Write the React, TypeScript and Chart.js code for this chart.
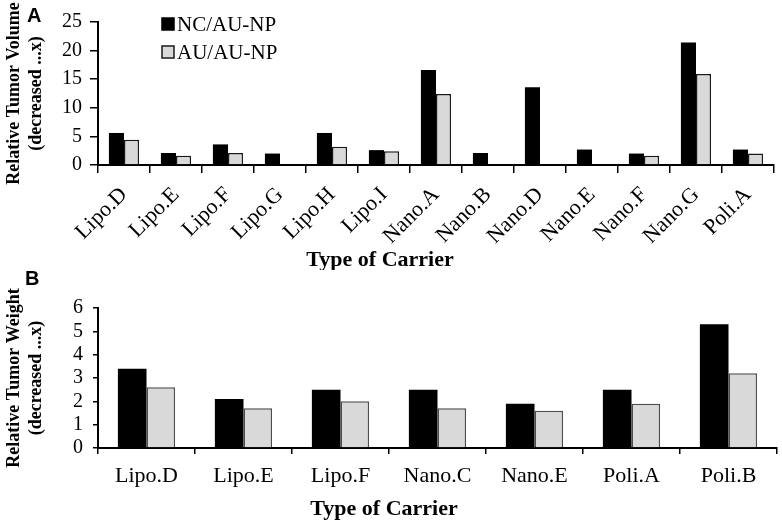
import { useEffect, useRef } from 'react';
import { Chart, registerables } from 'chart.js';

Chart.register(...registerables);

// Panel A: relative tumor volume
const carriersA = ['Lipo.D', 'Lipo.E', 'Lipo.F', 'Lipo.G', 'Lipo.H', 'Lipo.I', 'Nano.A', 'Nano.B', 'Nano.D', 'Nano.E', 'Nano.F', 'Nano.G', 'Poli.A'];
const ncVolume = [5.6, 2.1, 3.6, 2.0, 5.6, 2.6, 16.6, 2.1, 13.6, 2.7, 2.0, 21.4, 2.7];
const auVolume = [4.4, 1.6, 2.1, null, 3.2, 2.4, 12.4, null, null, null, 1.6, 15.9, 2.0];
const ticksA = [0, 5, 10, 15, 20, 25];

// Panel B: relative tumor weight
const carriersB = ['Lipo.D', 'Lipo.E', 'Lipo.F', 'Nano.C', 'Nano.E', 'Poli.A', 'Poli.B'];
const ncWeight = [3.4, 2.1, 2.5, 2.5, 1.9, 2.5, 5.3];
const auWeight = [2.6, 1.7, 2.0, 1.7, 1.6, 1.9, 3.2];
const ticksB = [0, 1, 2, 3, 4, 5, 6];

const seriesNames = ['NC/AU-NP', 'AU/AU-NP'];
const SERIF = '"Liberation Serif", "Times New Roman", serif';

// letter, x-axis title and (optionally) the in-plot legend
const panelText = {
  id: 'panelText',
  afterDraw(chart: any, _args: any, opts: any) {
    const ctx = chart.ctx;
    ctx.save();
    ctx.fillStyle = '#000';
    ctx.textBaseline = 'alphabetic';
    ctx.font = 'bold 20px "Liberation Sans", Arial, sans-serif';
    ctx.textAlign = 'left';
    ctx.fillText(opts.letter, opts.letterX, opts.letterY);

    ctx.font = `bold 22px ${SERIF}`;
    ctx.textAlign = 'center';
    ctx.fillText(opts.xTitle, opts.xTitleX, opts.xTitleY);

    if (opts.legend) {
      chart.data.datasets.forEach((ds: any, i: number) => {
        const y = opts.legendY + i * 28;
        ctx.fillStyle = ds.backgroundColor;
        ctx.fillRect(opts.legendX, y - 6, 12, 12);
        ctx.strokeStyle = ds.borderColor;
        ctx.lineWidth = 1.5;
        ctx.strokeRect(opts.legendX, y - 6, 12, 12);
        ctx.fillStyle = '#000';
        ctx.font = `21px ${SERIF}`;
        ctx.textAlign = 'left';
        ctx.textBaseline = 'middle';
        ctx.fillText(ds.label, opts.legendX + 15, y + 1);
      });
    }
    ctx.restore();
  },
};

function makeConfig(p: any) {
  return {
    type: 'bar',
    data: {
      labels: p.labels,
      datasets: [
        {
          label: seriesNames[0],
          data: p.nc,
          backgroundColor: '#000000',
          borderColor: '#000000',
          borderWidth: 0,
          categoryPercentage: p.catPct,
          barPercentage: 1,
        },
        {
          label: seriesNames[1],
          data: p.au,
          backgroundColor: '#d9d9d9',
          borderColor: p.grayBorder,
          borderWidth: 1.5,
          categoryPercentage: p.catPct,
          barPercentage: 1,
        },
      ],
    },
    options: {
      animation: false,
      responsive: true,
      maintainAspectRatio: false,
      layout: { padding: { left: 0, right: p.padRight, top: p.padTop, bottom: 0 } },
      plugins: {
        legend: { display: false },
        tooltip: { enabled: false },
        panelText: p.text,
      },
      scales: {
        x: {
          grid: {
            offset: true,
            drawOnChartArea: false,
            drawTicks: true,
            tickLength: p.xTickLen,
            color: '#000',
            lineWidth: 1.5,
          },
          border: { display: true, color: '#000', width: 2 },
          ticks: {
            color: '#000',
            font: { family: SERIF, size: 22 },
            maxRotation: p.rotation,
            minRotation: p.rotation,
            padding: p.xPad,
            autoSkip: false,
          },
          afterFit: (scale: any) => {
            scale.height = p.xHeight;
          },
        },
        y: {
          min: 0,
          max: p.yTicks[p.yTicks.length - 1],
          afterBuildTicks: (scale: any) => {
            scale.ticks = p.yTicks.map((v: number) => ({ value: v }));
          },
          grid: {
            drawOnChartArea: false,
            drawTicks: true,
            tickLength: p.yTickLen,
            color: '#000',
            lineWidth: 1.5,
          },
          border: { display: true, color: '#000', width: 2 },
          ticks: {
            color: '#000',
            font: { family: SERIF, size: 20 },
            padding: p.yPad,
            autoSkip: false,
          },
          title: {
            display: true,
            text: p.yTitle,
            color: '#000',
            font: { family: SERIF, size: 18, weight: 'bold', lineHeight: 1.2 },
            padding: { top: 4, bottom: 0 },
          },
          afterFit: (scale: any) => {
            scale.width = 98;
          },
        },
      },
    },
    plugins: [panelText],
  };
}

function Panel({ cfg, style }: { cfg: any; style: any }) {
  const ref = useRef<HTMLCanvasElement>(null);
  useEffect(() => {
    if (!ref.current) return;
    const chart = new Chart(ref.current, makeConfig(cfg) as any);
    return () => chart.destroy();
  }, [cfg]);
  return (
    <div style={{ position: 'absolute', left: 0, width: 782, ...style }}>
      <canvas ref={ref}></canvas>
    </div>
  );
}

const panelA = {
  labels: carriersA,
  nc: ncVolume,
  au: auVolume,
  yTicks: ticksA,
  catPct: 0.58,
  grayBorder: '#1a1a1a',
  padRight: 8,
  padTop: 22,
  xHeight: 105,
  xTickLen: 8,
  yTickLen: 8,
  rotation: 45,
  xPad: 9,
  yPad: 8,
  yTitle: ['Relative Tumor Volume', '(decreased ...x)'],
  text: {
    letter: 'A',
    letterX: 27,
    letterY: 22,
    xTitle: 'Type of Carrier',
    xTitleX: 380,
    xTitleY: 266,
    legend: true,
    legendX: 162,
    legendY: 24,
  },
};

const panelB = {
  labels: carriersB,
  nc: ncWeight,
  au: auWeight,
  yTicks: ticksB,
  catPct: 0.59,
  grayBorder: '#4d4d4d',
  padRight: 5,
  padTop: 38,
  xHeight: 73,
  xTickLen: 6,
  yTickLen: 5,
  rotation: 0,
  xPad: 9,
  yPad: 10,
  yTitle: ['Relative Tumor Weight', '(decreased ...x)'],
  text: {
    letter: 'B',
    letterX: 25,
    letterY: 15,
    xTitle: 'Type of Carrier',
    xTitleX: 384,
    xTitleY: 245,
    legend: false,
  },
};

export default function App() {
  return (
    <div style={{ position: 'fixed', left: 0, top: 0, width: 782, height: 521, background: '#fff' }}>
      <Panel cfg={panelA} style={{ top: 0, height: 270 }} />
      <Panel cfg={panelB} style={{ top: 270, height: 251 }} />
    </div>
  );
}
